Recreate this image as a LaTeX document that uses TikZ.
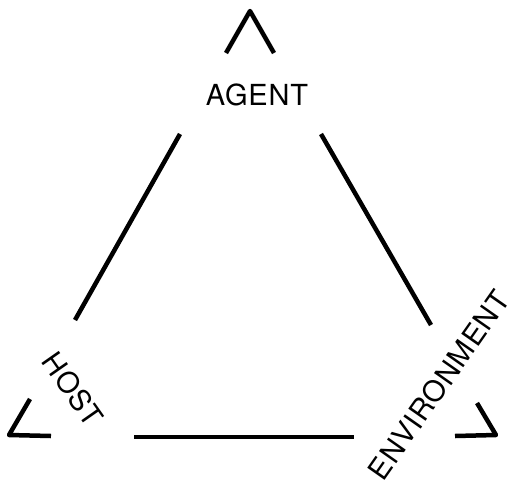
\documentclass[tikz,border=0pt]{standalone}
\usepackage{fontspec}
\setmainfont{TeX Gyre Heros}[LetterSpace=3]
\begin{document}
\begin{tikzpicture}[x=1pt,y=-1pt,
  edge/.style={line width=4.5pt,line join=round,line cap=butt},
  lbl/.style={inner sep=0pt,font=\fontsize{29}{29}\selectfont}]
\useasboundingbox (0,0) rectangle (511,488);
% apex corner
\coordinate (a1) at (226,53);
\coordinate (a0) at (250,11);
\coordinate (a2) at (274,53);
% left side
\coordinate (l1) at (180,134);
\coordinate (l2) at (75,320);
% right side
\coordinate (r1) at (321,134);
\coordinate (r2) at (431,325);
% bottom
\coordinate (b1) at (134,437);
\coordinate (b2) at (354,437);
% bottom-left corner
\coordinate (h1) at (30,399);
\coordinate (h0) at (9,435);
\coordinate (h2) at (51,436);
% bottom-right corner
\coordinate (e1) at (477,403);
\coordinate (e0) at (496,435);
\coordinate (e2) at (455,436);
\node[lbl] (agent) at (257,95) {AGENT};
\node[lbl,rotate=-55] (host) at (73,389) {HOST};
\node[lbl,rotate=55] (env) at (439,385) {ENVIRONMENT};
\draw[edge] (a1) -- (a0) -- (a2);
\draw[edge] (l1) -- (l2);
\draw[edge] (r1) -- (r2);
\draw[edge] (b1) -- (b2);
\draw[edge] (h1) -- (h0) -- (h2);
\draw[edge] (e1) -- (e0) -- (e2);
\end{tikzpicture}
\end{document}
